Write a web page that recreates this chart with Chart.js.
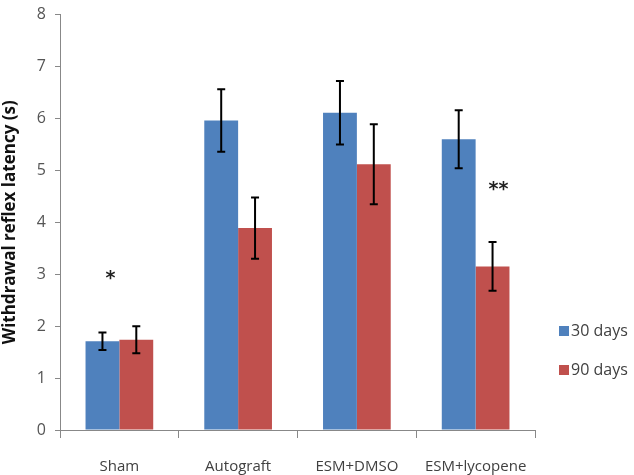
<!DOCTYPE html>
<html lang="en">
<head>
  <meta charset="UTF-8">
  <title>Withdrawal reflex latency</title>
  <script src="https://cdn.jsdelivr.net/npm/chart.js"></script>
  <style>
    html, body { margin: 0; padding: 0; background: #fff; overflow: hidden; }
    #wrap { width: 634px; height: 479px; position: relative; margin-top: -4px; }
  </style>
</head>
<body>
<div id="wrap"><canvas id="myChart"></canvas></div>
<script>
  const groups = ["Sham", "Autograft", "ESM+DMSO", "ESM+lycopene"]
  const seriesNames = ["30 days", "90 days"]
  const days30 = [1.71, 5.96, 6.11, 5.60]
  const days90 = [1.74, 3.89, 5.12, 3.15]
  const err30 = [0.17, 0.60, 0.61, 0.56]
  const err90 = [0.26, 0.59, 0.77, 0.47]
  const yTicks = [0, 1, 2, 3, 4, 5, 6, 7, 8]
  // significance marks: [group index, dataset index, value where the text sits]
  const marks = [[0, 0, 2.9, "*"], [3, 1, 4.63, "**"]]

  const blue = "#4F81BD"
  const red = "#C0504D"

  const errorBars = {
    id: "errorBars",
    afterDatasetsDraw(chart) {
      const ctx = chart.ctx
      const y = chart.scales.y
      ctx.save()
      ctx.strokeStyle = "#000"
      ctx.lineWidth = 2
      chart.data.datasets.forEach((ds, i) => {
        const meta = chart.getDatasetMeta(i)
        meta.data.forEach((bar, j) => {
          const v = ds.data[j], e = ds.errors[j]
          const top = y.getPixelForValue(v + e)
          const bot = y.getPixelForValue(v - e)
          ctx.beginPath()
          ctx.moveTo(bar.x, top); ctx.lineTo(bar.x, bot)
          ctx.moveTo(bar.x - 4, top); ctx.lineTo(bar.x + 4, top)
          ctx.moveTo(bar.x - 4, bot); ctx.lineTo(bar.x + 4, bot)
          ctx.stroke()
        })
      })
      ctx.fillStyle = "#222"
      ctx.font = "bold 19px 'DejaVu Sans'"
      ctx.textAlign = "center"
      ctx.textBaseline = "middle"
      marks.forEach(m => {
        const bar = chart.getDatasetMeta(m[1]).data[m[0]]
        ctx.fillText(m[3], bar.x + (m[1] === 0 ? 8 : 6), y.getPixelForValue(m[2]))
      })
      ctx.restore()
    }
  }

  const sideLegend = {
    id: "sideLegend",
    afterDraw(chart) {
      const ctx = chart.ctx
      ctx.save()
      ctx.font = "16px 'Open Sans'"
      ctx.textBaseline = "middle"
      chart.data.datasets.forEach((ds, i) => {
        const cy = 335 + i * 39
        ctx.fillStyle = ds.backgroundColor
        ctx.fillRect(559, cy - 5, 10, 10)
        ctx.fillStyle = "#404040"
        ctx.fillText(ds.label, 571, cy)
      })
      ctx.restore()
    }
  }

  const data = {
    labels: groups,
    datasets: [
      { label: seriesNames[0], data: days30, errors: err30, backgroundColor: blue },
      { label: seriesNames[1], data: days90, errors: err90, backgroundColor: red }
    ]
  }

  const config = {
    type: "bar",
    data,
    options: {
      responsive: true,
      maintainAspectRatio: false,
      animation: false,
      layout: { padding: { top: 0, right: 99, left: 0, bottom: 0 } },
      datasets: { bar: { categoryPercentage: 0.57, barPercentage: 1.0 } },
      plugins: { legend: { display: false }, tooltip: { enabled: false } },
      scales: {
        x: {
          grid: { drawOnChartArea: false, tickLength: 8, color: "#888", offset: true },
          border: { color: "#888" },
          ticks: { font: { family: "'Open Sans'", size: 15 }, color: "#404040", padding: 20 },
          afterFit(s) { s.height = 45 }
        },
        y: {
          min: 0, max: 8,
          afterBuildTicks(s) { s.ticks = yTicks.map(v => ({ value: v })) },
          grid: { drawOnChartArea: false, tickLength: 5, color: "#888" },
          border: { color: "#888" },
          ticks: { font: { family: "'Open Sans'", size: 16 }, color: "#555", padding: 9 },
          title: {
            display: true,
            text: "Withdrawal reflex latency (s)",
            font: { family: "'Open Sans'", size: 17, weight: "bold" },
            color: "#111",
            padding: { top: 0, bottom: 2 }
          },
          afterFit(s) { s.width = 60 }
        }
      }
    },
    plugins: [errorBars, sideLegend]
  }

  var myChart = new Chart(document.getElementById("myChart"), config)
</script>
</body>
</html>
